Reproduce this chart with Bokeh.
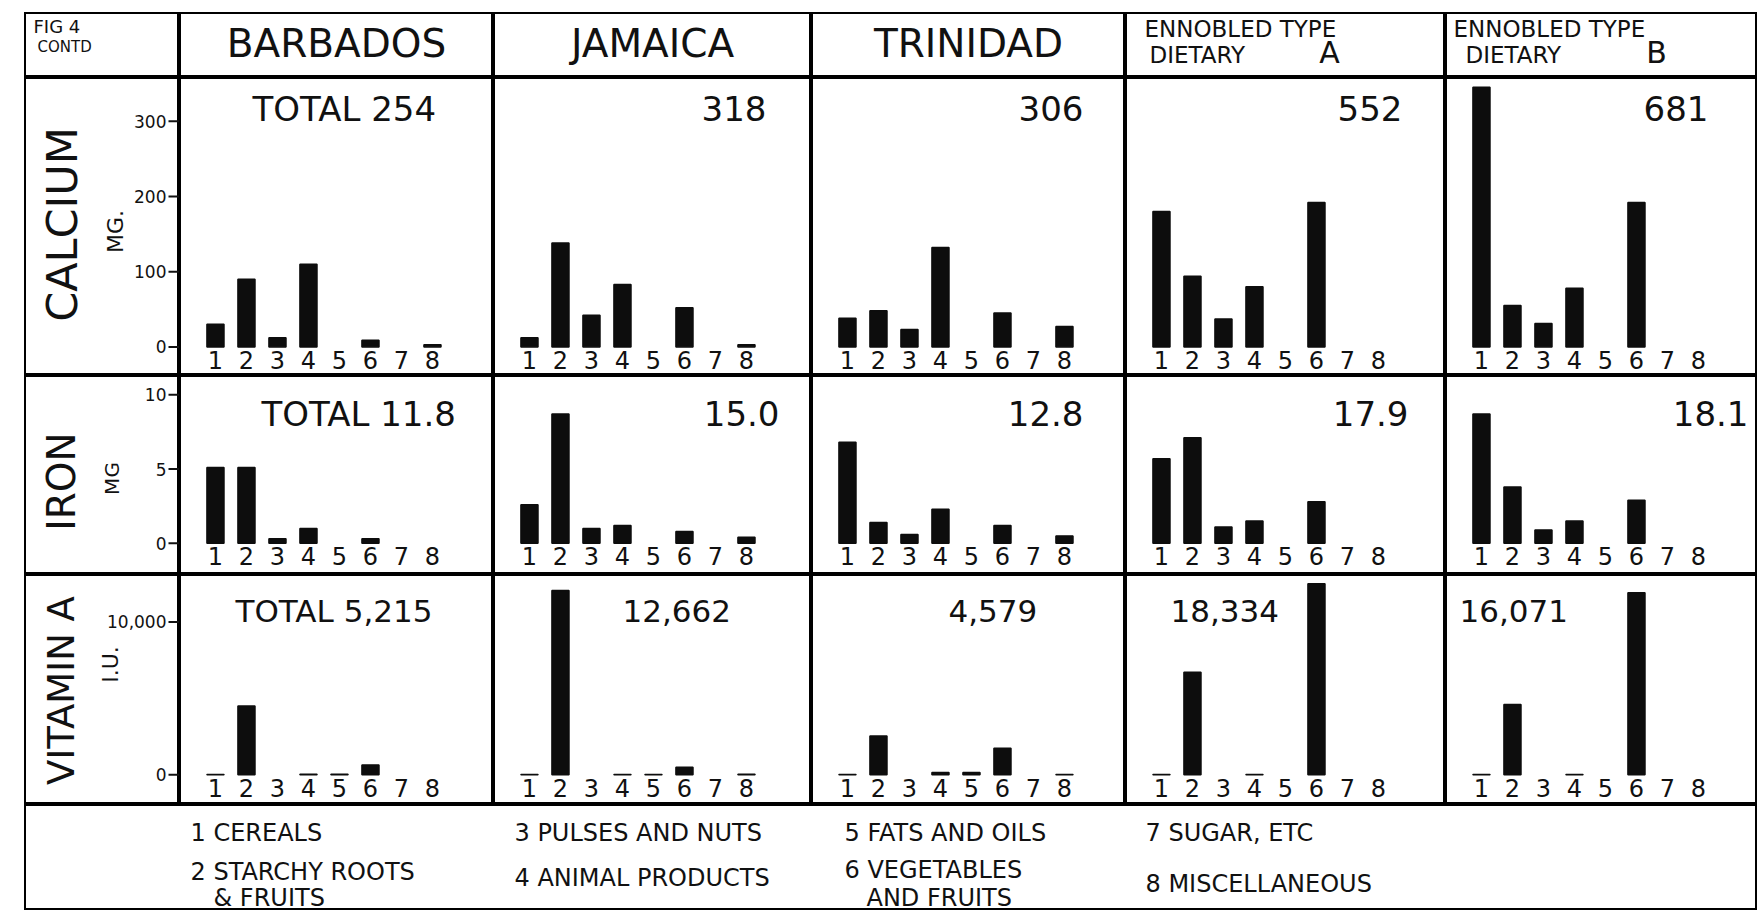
import math
from bokeh.plotting import figure
from bokeh.layouts import row, column, Spacer
from bokeh.models import Range1d, Label, ColumnDataSource
from bokeh.core.properties import value
from bokeh.embed import file_html
from bokeh.resources import INLINE

FONT = "DejaVu Sans"

# ---------------- data ----------------
categories = [1, 2, 3, 4, 5, 6, 7, 8]
cat_labels = ["1", "2", "3", "4", "5", "6", "7", "8"]

header_single = ["BARBADOS", "JAMAICA", "TRINIDAD", None, None]
header_line1 = [None, None, None, "ENNOBLED TYPE", "ENNOBLED TYPE"]
header_line2 = [None, None, None, "DIETARY", "DIETARY"]
header_letter = [None, None, None, "A", "B"]

nutrients = ["CALCIUM", "IRON", "VITAMIN A"]
nutrient_units = ["MG.", "MG", "I.U."]

calcium_ticks = [0, 100, 200, 300]
calcium_tick_labels = ["0", "100", "200", "300"]
iron_ticks = [0, 5, 10]
iron_tick_labels = ["0", "5", "10"]
vita_ticks = [0, 10000]
vita_tick_labels = ["0", "10,000"]

calcium_barbados = [30, 90, 12, 110, 0, 9, 0, 3]
calcium_jamaica = [12, 138, 42, 83, 0, 52, 0, 3]
calcium_trinidad = [38, 48, 23, 132, 0, 45, 0, 27]
calcium_diet_a = [180, 94, 37, 80, 0, 192, 0, 0]
calcium_diet_b = [345, 55, 31, 78, 0, 192, 0, 0]
calcium_totals = ["TOTAL 254", "318", "306", "552", "681"]

iron_barbados = [5.1, 5.1, 0.3, 1.0, 0, 0.3, 0, 0]
iron_jamaica = [2.6, 8.7, 1.0, 1.2, 0, 0.8, 0, 0.4]
iron_trinidad = [6.8, 1.4, 0.6, 2.3, 0, 1.2, 0, 0.5]
iron_diet_a = [5.7, 7.1, 1.1, 1.5, 0, 2.8, 0, 0]
iron_diet_b = [8.7, 3.8, 0.9, 1.5, 0, 2.9, 0, 0]
iron_totals = ["TOTAL  11.8", "15.0", "12.8", "17.9", "18.1"]

vita_barbados = [20, 4500, 0, 30, 25, 640, 0, 0]
vita_jamaica = [20, 12050, 0, 20, 20, 480, 0, 22]
vita_trinidad = [17, 2530, 0, 140, 140, 1735, 0, 17]
vita_diet_a = [20, 6700, 0, 20, 0, 12500, 0, 0]
vita_diet_b = [20, 4600, 0, 20, 0, 11900, 0, 0]
vita_totals = ["TOTAL 5,215", "12,662", "4,579", "18,334", "16,071"]

legend_entries = ["1 CEREALS", "2 STARCHY ROOTS", "& FRUITS", "3 PULSES AND NUTS",
                  "4 ANIMAL PRODUCTS", "5 FATS AND OILS", "6 VEGETABLES", "AND FRUITS",
                  "7 SUGAR, ETC", "8 MISCELLANEOUS"]

# ---------------- layout ----------------
COL_W = [155, 314, 318, 314, 320, 312]
HEADER_H = 65
ROW_H = [298, 199, 230]
LEGEND_H = 106
Y_RANGES = [(-38, 358), (-2.1, 11.3), (-1950, 13100)]

row_values = [
    [calcium_barbados, calcium_jamaica, calcium_trinidad, calcium_diet_a, calcium_diet_b],
    [iron_barbados, iron_jamaica, iron_trinidad, iron_diet_a, iron_diet_b],
    [vita_barbados, vita_jamaica, vita_trinidad, vita_diet_a, vita_diet_b],
]
row_totals = [calcium_totals, iron_totals, vita_totals]
row_ticks = [(calcium_ticks, calcium_tick_labels), (iron_ticks, iron_tick_labels),
             (vita_ticks, vita_tick_labels)]
total_sizes = [34, 34, 31]

# total label placement per row: (mode, offset from cell left, offset from cell top)
total_pos = [
    [("left", 73, 31), ("right", 273, 31), ("right", 272, 31), ("right", 277, 31), ("right", 263, 31)],
    [("left", 82, 38), ("right", 286, 38), ("right", 272, 38), ("right", 283, 38), ("right", 303, 38)],
    [("left", 56, 36), ("left", 129, 36), ("left", 137, 36), ("left", 45, 36), ("left", 14, 36)],
]
label_pos = [((37, 147, 43), (91, 154, 22)),
             ((37, 106, 39), (87, 103, 20)),
             ((37, 116, 37), (86, 90, 22))]


def make_fig(w, h, xr, yr):
    p = figure(width=w, height=h, x_range=xr, y_range=yr, output_backend="svg",
               toolbar_location=None, tools="", min_border=0,
               x_axis_location=None, y_axis_location=None)
    p.grid.visible = False
    p.outline_line_color = "black"
    p.outline_line_width = 3
    p.background_fill_color = "white"
    p.border_fill_color = "white"
    return p


def to_data(p, w, h, px, py):
    xr, yr = p.x_range, p.y_range
    x = xr.start + (xr.end - xr.start) * px / w
    y = yr.end - (yr.end - yr.start) * py / h
    return x, y


def add_label(p, w, h, px, py, text, size, align="left", angle=0.0):
    x, y = to_data(p, w, h, px, py)
    p.add_layout(Label(x=x, y=y, text=text, text_font=FONT,
                       text_font_size=f"{size}px", text_align=align,
                       text_baseline="middle", angle=angle, text_color="#111111"))


rows = []

# header row
hdr = []
w0 = COL_W[0]
p = make_fig(w0, HEADER_H, Range1d(0, w0), Range1d(HEADER_H, 0))
add_label(p, w0, HEADER_H, 9, 14, "FIG 4", 18)
add_label(p, w0, HEADER_H, 13, 34, "CONTD", 15)
hdr.append(p)
for j in range(5):
    w = COL_W[j + 1]
    p = make_fig(w, HEADER_H, Range1d(0, w), Range1d(HEADER_H, 0))
    if header_single[j]:
        add_label(p, w, HEADER_H, w / 2, 31, header_single[j], 39, align="center")
    else:
        l1x, l2x, lx = (19, 24, 204) if j == 3 else (8, 20, 211)
        add_label(p, w, HEADER_H, l1x, 16, header_line1[j], 23)
        add_label(p, w, HEADER_H, l2x, 42, header_line2[j], 23)
        add_label(p, w, HEADER_H, lx, 40, header_letter[j], 30, align="center")
    hdr.append(p)
rows.append(row(*hdr))

# data rows
for i in range(3):
    h = ROW_H[i]
    yr = Range1d(*Y_RANGES[i])
    cells = []
    lab = make_fig(w0, h, Range1d(0, w0), yr)
    ticks, tlabels = row_ticks[i]
    lab.text(x=[w0] * len(ticks), y=ticks, text=tlabels, x_offset=-13,
             text_align="right", text_baseline="middle", text_font=value(FONT),
             text_font_size="17px", text_color="#111111")
    lab.scatter(x=[w0] * len(ticks), y=ticks, marker="dash", size=22,
                line_width=2, line_color="#111111")
    (nx, ny, ns), (ux, uy, us) = label_pos[i]
    add_label(lab, w0, h, nx, ny, nutrients[i], ns, align="center", angle=math.pi / 2)
    add_label(lab, w0, h, ux, uy, nutrient_units[i], us, align="center", angle=math.pi / 2)
    cells.append(lab)
    for j in range(5):
        w = COL_W[j + 1]
        xs = -0.16
        xr = Range1d(xs, xs + w / 31.0)
        p = make_fig(w, h, xr, yr)
        vals = row_values[i][j]
        src = ColumnDataSource(dict(
            x=[c for c, v in zip(categories, vals) if v > 0],
            top=[v for v in vals if v > 0]))
        p.vbar(x="x", top="top", bottom=0, width=0.55, source=src,
               fill_color="#0d0d0d", line_color="#0d0d0d", line_width=1.5)
        p.text(x=categories, y=[0] * len(categories), text=cat_labels,
               text_align="center", text_baseline="top", y_offset=4,
               text_font=value(FONT), text_font_size="24px", text_color="#111111")
        mode, ox, oy = total_pos[i][j]
        add_label(p, w, h, ox, oy, row_totals[i][j], total_sizes[i], align=mode)
        cells.append(p)
    rows.append(row(*cells))

# legend row
LW = sum(COL_W)
leg = make_fig(LW, LEGEND_H, Range1d(0, LW), Range1d(LEGEND_H, 0))
legend_pos = [(166, 28), (166, 67), (189, 93), (490, 28), (490, 73), (820, 28),
              (820, 65), (842, 93), (1121, 28), (1121, 79)]
for (lx, ly), txt in zip(legend_pos, legend_entries):
    add_label(leg, LW, LEGEND_H, lx, ly, txt, 24)
rows.append(row(leg))

grid = column(*rows)
layout = column(Spacer(height=12), row(Spacer(width=24), grid))

open("out.html", "w").write(file_html(layout, INLINE))
